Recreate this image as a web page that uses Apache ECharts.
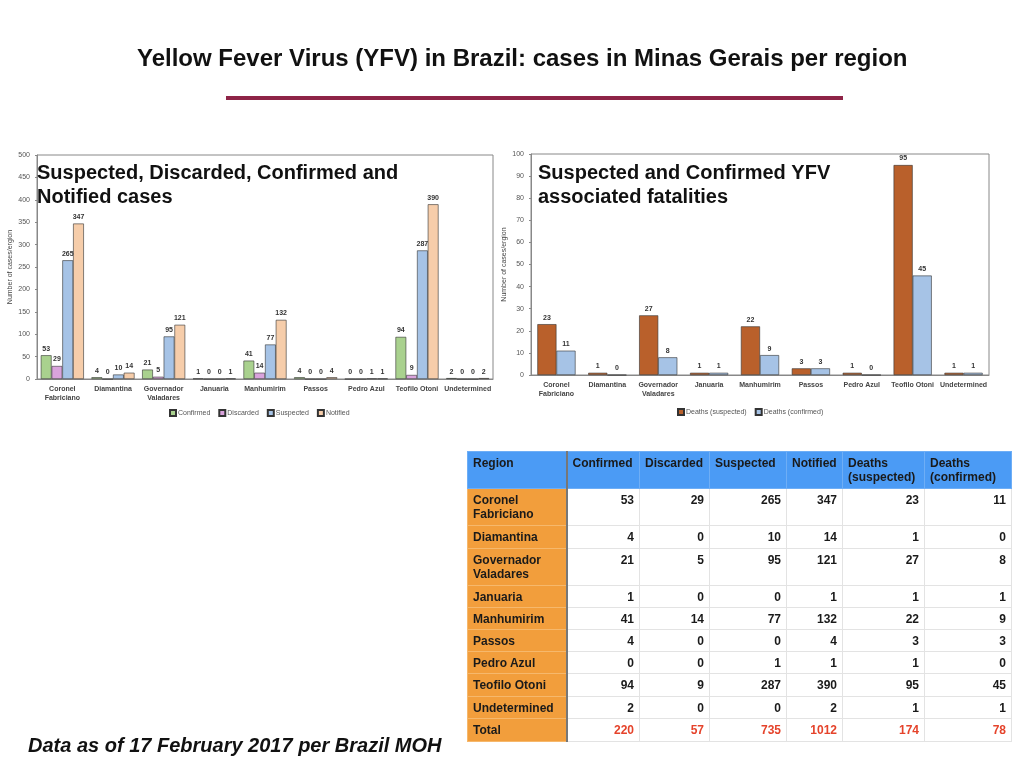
<!DOCTYPE html>
<html>
<head>
<meta charset="utf-8">
<script src="https://cdn.jsdelivr.net/npm/echarts@6/dist/echarts.min.js"></script>
<style>
html, body { margin: 0; padding: 0; background: #fff; }
#main { position: absolute; left: 0; top: 0; width: 1024px; height: 768px; }
#tbl { position: absolute; left: 467px; top: 451px; border-collapse: collapse; table-layout: fixed;
  font-family: 'Liberation Sans', Arial, sans-serif; font-size: 12px; font-weight: bold; color: #1a1a1a; }
#tbl td, #tbl th { padding: 4px 5px 0 5px; vertical-align: top; line-height: 14px; border: 1px solid #e3e3e3; box-sizing: border-box; }
#tbl th { background: #4b9bf5; text-align: left; border-color: #6eaef6; }
#tbl td.reg { background: #f29e3c; border-color: #f6b86c; border-right: 2px solid #777; }
#tbl th.reg { border-right: 2px solid #777; }
#tbl td.num { text-align: right; }
#tbl td.tot { color: #e5432b; }
</style>
</head>
<body>
<div id="main"></div>
<table id="tbl"></table>
<script>
// values (table + the two bar charts)
var regions = ['Coronel Fabriciano', 'Diamantina', 'Governador Valadares', 'Januaria', 'Manhumirim',
  'Passos', 'Pedro Azul', 'Teofilo Otoni', 'Undetermined'];
var confirmed = [53, 4, 21, 1, 41, 4, 0, 94, 2];
var discarded = [29, 0, 5, 0, 14, 0, 0, 9, 0];
var suspected = [265, 10, 95, 0, 77, 0, 1, 287, 0];
var notified = [347, 14, 121, 1, 132, 4, 1, 390, 2];
var deathsSuspected = [23, 1, 27, 1, 22, 3, 1, 95, 1];
var deathsConfirmed = [11, 0, 8, 1, 9, 3, 0, 45, 1];
var totals = [220, 57, 735, 1012, 174, 78];
var headers = ['Region', 'Confirmed', 'Discarded', 'Suspected', 'Notified', 'Deaths (suspected)', 'Deaths (confirmed)'];

// table (html, built from the arrays above)
var colW = [99, 73, 70, 77, 56, 82, 87];
var rowH = [37, 23, 37, 22, 22, 22, 22, 23, 22];
var cols = [confirmed, discarded, suspected, notified, deathsSuspected, deathsConfirmed];
var html = '<colgroup>' + colW.map(function (w) { return '<col style="width:' + w + 'px">'; }).join('') + '</colgroup>';
html += '<tr style="height:37px">' + headers.map(function (h, i) {
  return '<th' + (i == 0 ? ' class="reg"' : '') + '>' + h + '</th>';
}).join('') + '</tr>';
regions.forEach(function (r, i) {
  html += '<tr style="height:' + rowH[i] + 'px"><td class="reg">' + r + '</td>';
  cols.forEach(function (c) { html += '<td class="num">' + c[i] + '</td>'; });
  html += '</tr>';
});
html += '<tr style="height:23px"><td class="reg">Total</td>';
totals.forEach(function (t) { html += '<td class="num tot">' + t + '</td>'; });
html += '</tr>';
document.getElementById('tbl').innerHTML = html;

var font = "'Liberation Sans', Arial, sans-serif";
var chart = echarts.init(document.getElementById('main'));

function barLabel() {
  return { show: true, position: 'top', distance: 3, fontSize: 7, fontWeight: 'bold', color: '#333', fontFamily: font };
}
function catAxis(idx) {
  return {
    type: 'category', gridIndex: idx, data: regions,
    axisLine: { lineStyle: { color: '#888' } },
    axisTick: { show: false },
    axisLabel: {
      interval: 0, fontSize: 7, color: '#444', fontWeight: 'bold', fontFamily: font, margin: 6, lineHeight: 9,
      formatter: function (v) { return v.length > 14 ? v.replace(' ', '\n') : v; }
    }
  };
}
function valAxis(idx, max, step) {
  return {
    type: 'value', gridIndex: idx, min: 0, max: max, interval: step,
    name: 'Number of cases/ergion', nameLocation: 'middle', nameGap: 23,
    nameTextStyle: { fontSize: 7, color: '#444', fontFamily: font },
    axisLine: { show: true, lineStyle: { color: '#888' } },
    axisTick: { show: true, length: 2, lineStyle: { color: '#888' } },
    splitLine: { show: false },
    axisLabel: { fontSize: 7, color: '#555', fontFamily: font, margin: 7 }
  };
}
var border = { borderColor: '#333', borderWidth: 0.6 };

var option = {
  animation: false,
  textStyle: { fontFamily: font },
  title: [
    { text: 'Yellow Fever Virus (YFV) in Brazil: cases in Minas Gerais per region', left: 137, top: 47, padding: 0,
      textStyle: { fontSize: 24, fontWeight: 'bold', color: '#111', fontFamily: font } },
    { text: 'Suspected, Discarded, Confirmed and\nNotified cases', left: 37, top: 161, padding: 0,
      textStyle: { fontSize: 20, fontWeight: 'bold', color: '#111', lineHeight: 24, fontFamily: font } },
    { text: 'Suspected and Confirmed YFV\nassociated fatalities', left: 538, top: 161, padding: 0,
      textStyle: { fontSize: 20, fontWeight: 'bold', color: '#111', lineHeight: 24, fontFamily: font } },
    { text: 'Data as of 17 February 2017 per Brazil MOH', left: 28, top: 736, padding: 0,
      textStyle: { fontSize: 20, fontWeight: 'bold', fontStyle: 'italic', color: '#111', fontFamily: font } }
  ],
  graphic: [
    { type: 'line', shape: { x1: 226, y1: 98, x2: 843, y2: 98 }, style: { stroke: '#8e2447', lineWidth: 4 } }
  ],
  legend: [
    { data: ['Confirmed', 'Discarded', 'Suspected', 'Notified'], left: 164, top: 404,
      itemWidth: 6, itemHeight: 6, itemGap: 8, icon: 'rect',
      textStyle: { fontSize: 7, color: '#555', padding: [0, 0, 0, -3] } },
    { data: ['Deaths (suspected)', 'Deaths (confirmed)'], left: 672, top: 403,
      itemWidth: 6, itemHeight: 6, itemGap: 8, icon: 'rect',
      textStyle: { fontSize: 7, color: '#555', padding: [0, 0, 0, -3] } }
  ],
  grid: [
    { left: 37, top: 155, width: 456, height: 224, show: true, borderColor: '#888', borderWidth: 1 },
    { left: 531, top: 154, width: 458, height: 221, show: true, borderColor: '#888', borderWidth: 1 }
  ],
  xAxis: [catAxis(0), catAxis(1)],
  yAxis: [valAxis(0, 500, 50), valAxis(1, 100, 10)],
  series: [
    { name: 'Confirmed', type: 'bar', xAxisIndex: 0, yAxisIndex: 0, data: confirmed, barGap: '0%', barCategoryGap: '15%',
      itemStyle: Object.assign({ color: '#a9d18e' }, border), label: barLabel() },
    { name: 'Discarded', type: 'bar', xAxisIndex: 0, yAxisIndex: 0, data: discarded,
      itemStyle: Object.assign({ color: '#d9a3dc' }, border), label: barLabel() },
    { name: 'Suspected', type: 'bar', xAxisIndex: 0, yAxisIndex: 0, data: suspected,
      itemStyle: Object.assign({ color: '#a6c3e6' }, border), label: barLabel() },
    { name: 'Notified', type: 'bar', xAxisIndex: 0, yAxisIndex: 0, data: notified,
      itemStyle: Object.assign({ color: '#f6cdaa' }, border), label: barLabel() },
    { name: 'Deaths (suspected)', type: 'bar', xAxisIndex: 1, yAxisIndex: 1, data: deathsSuspected, barGap: '0%', barCategoryGap: '25%',
      itemStyle: Object.assign({ color: '#b9602b' }, border), label: barLabel() },
    { name: 'Deaths (confirmed)', type: 'bar', xAxisIndex: 1, yAxisIndex: 1, data: deathsConfirmed,
      itemStyle: Object.assign({ color: '#a6c3e6' }, border), label: barLabel() }
  ]
};
chart.setOption(option);
</script>
</body>
</html>
